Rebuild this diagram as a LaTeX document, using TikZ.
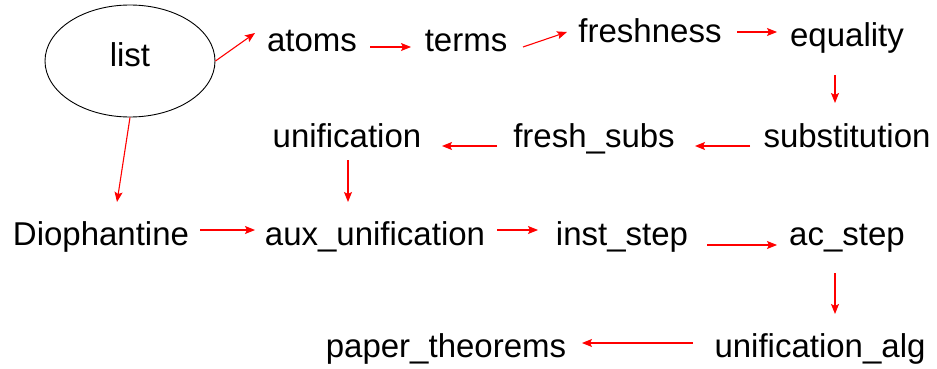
\documentclass[tikz,border=0pt]{standalone}
\usepackage{fontspec}
\setmainfont{Liberation Sans}
\usetikzlibrary{shapes.geometric,arrows.meta}
\tikzset{
  lbl/.style={anchor=base, inner sep=0pt, font=\fontsize{33}{40}\selectfont},
  arr/.style={draw=red, line width=1.1pt, -{Stealth[length=10pt,width=8pt,inset=2pt]}},
  oval/.style={ellipse, draw=black, line width=0.9pt, minimum width=170pt, minimum height=112pt, inner sep=0pt, text depth=12pt, font=\fontsize{33}{40}\selectfont}
}
\begin{document}
\begin{tikzpicture}[x=1pt,y=-1pt]
\fill[white] (0,0) rectangle (937,369);
\useasboundingbox (0,0) rectangle (937,369);
\node[oval] (list) at (130,61) {list};
\node[lbl] (atoms) at (312,52) {atoms};
\node[lbl] (terms) at (466,52) {terms};
\node[lbl] (freshness) at (650,43) {freshness};
\node[lbl] (equality) at (847,47) {equality};
\node[lbl] (substitution) at (847,147) {substitution};
\node[lbl] (freshsubs) at (594,147) {fresh\_subs};
\node[lbl] (unification) at (347,147) {unification};
\node[lbl] (dioph) at (101,245) {Diophantine};
\node[lbl] (aux) at (375,245) {aux\_unification};
\node[lbl] (inst) at (622,245) {inst\_step};
\node[lbl] (ac) at (847,245) {ac\_step};
\node[lbl] (ualg) at (820,357) {unification\_alg};
\node[lbl] (paper) at (446,357) {paper\_theorems};

\draw[arr] (list.east) -- ([shift={(-57,-19)}]atoms.base);
\draw[arr] (list.south) -- ([shift={(16,-43)}]dioph.base);
\draw[arr] ([shift={(58,-5)}]atoms.base) -- ([shift={(-55,-5)}]terms.base);
\draw[arr] ([shift={(57,-5)}]terms.base) -- ([shift={(-83,-11)}]freshness.base);
\draw[arr] ([shift={(87,-11)}]freshness.base) -- ([shift={(-70,-15)}]equality.base);
\draw[arr] ([shift={(-12,28)}]equality.base) -- ([shift={(-12,-44)}]substitution.base);
\draw[arr] ([shift={(-97,-1)}]substitution.base) -- ([shift={(101,-1)}]freshsubs.base);
\draw[arr] ([shift={(-97,-1)}]freshsubs.base) -- ([shift={(95,-1)}]unification.base);
\draw[arr] ([shift={(1,13)}]unification.base) -- ([shift={(-27,-43)}]aux.base);
\draw[arr] ([shift={(99,-15)}]dioph.base) -- ([shift={(-120,-15)}]aux.base);
\draw[arr] ([shift={(122,-15)}]aux.base) -- ([shift={(-84,-15)}]inst.base);
\draw[arr] ([shift={(85,0)}]inst.base) -- ([shift={(-70,0)}]ac.base);
\draw[arr] ([shift={(-12,28)}]ac.base) -- ([shift={(15,-43)}]ualg.base);
\draw[arr] ([shift={(-127,-14)}]ualg.base) -- ([shift={(136,-14)}]paper.base);
\end{tikzpicture}
\end{document}
